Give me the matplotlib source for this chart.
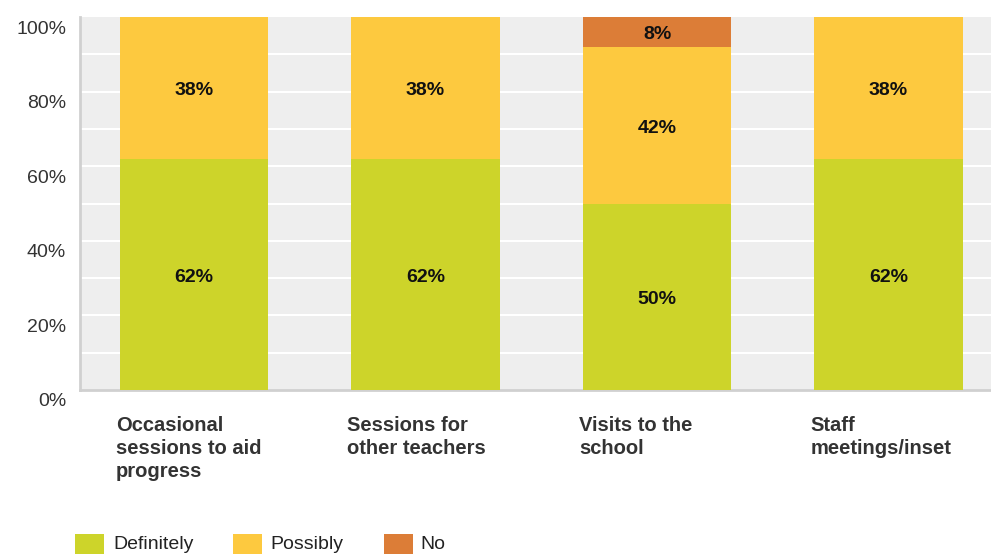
import matplotlib
matplotlib.use("Agg")
import matplotlib.pyplot as plt
from matplotlib.patches import Rectangle
import matplotlib.transforms as mtrans
import numpy as np

plt.rcParams['font.family'] = ['Liberation Sans', 'DejaVu Sans']

categories = ["Occasional\nsessions to aid\nprogress", "Sessions for\nother teachers",
              "Visits to the\nschool", "Staff\nmeetings/inset"]
series_names = ["Definitely", "Possibly", "No"]
definitely = [62, 62, 50, 62]
possibly = [38, 38, 42, 38]
no = [0, 0, 8, 0]
yticks = [0, 20, 40, 60, 80, 100]
colors = ["#CDD42A", "#FDC93F", "#DC7D37"]

W, H = 991, 554
fig = plt.figure(figsize=(W / 100, H / 100), dpi=100)
ax = fig.add_axes([80 / W, (H - 390) / H, 1 - 80 / W, 373 / H])
ax.set_facecolor("#EEEEEE")

x = np.arange(len(categories))
bw = 0.64
bottom = np.zeros(len(categories))
for vals, col in zip([definitely, possibly, no], colors):
    vals = np.array(vals, dtype=float)
    ax.bar(x, vals, bw, bottom=bottom, color=col, zorder=3)
    for xi, b, v in zip(x, bottom, vals):
        if v > 0:
            ax.annotate(f"{int(v)}%", xy=(xi, b + v / 2), xytext=(0, -3),
                        textcoords="offset pixels", ha="center", va="center",
                        fontsize=14, fontweight="bold", color="#111111", zorder=4)
    bottom += vals

ax.set_xlim((80 - 194) / 231.5, (991 - 194) / 231.5)
ax.set_ylim(0, 100)
for g in range(10, 100, 10):
    ax.axhline(g, color="white", lw=1.5, zorder=1)

ax.set_yticks(yticks)
ax.set_yticklabels([f"{t}%" for t in yticks])
ax.tick_params(axis="y", length=0, labelsize=14, labelcolor="#333333", pad=10)
offset = mtrans.ScaledTranslation(0, -10 / 100, fig.dpi_scale_trans)
for lab in ax.get_yticklabels():
    lab.set_transform(lab.get_transform() + offset)
ax.set_xticks([])

for s in ["top", "right"]:
    ax.spines[s].set_visible(False)
ax.spines["left"].set_color("#D0D0D0")
ax.spines["bottom"].set_color("#D0D0D0")
ax.spines["left"].set_linewidth(2)
ax.spines["bottom"].set_linewidth(2)

for xi, cat in zip(x, categories):
    ax.annotate(cat, xy=(xi - bw / 2, 0), xycoords="data",
                xytext=(-4, -26), textcoords="offset pixels",
                ha="left", va="top", fontsize=14.5, fontweight="bold",
                color="#333333", linespacing=1.28, annotation_clip=False)

# legend drawn manually
leg_px = [(75, 113), (233, 270), (384, 420)]
for (px, tx), name, col in zip(leg_px, series_names, colors):
    fig.add_artist(Rectangle((px / W, 0), 29 / W, 20 / H, transform=fig.transFigure,
                             facecolor=col, edgecolor="none"))
    fig.text(tx / W, (H - 549) / H, name, ha="left", va="baseline",
             fontsize=14, color="#222222")

fig.savefig("out.png", dpi=100)
